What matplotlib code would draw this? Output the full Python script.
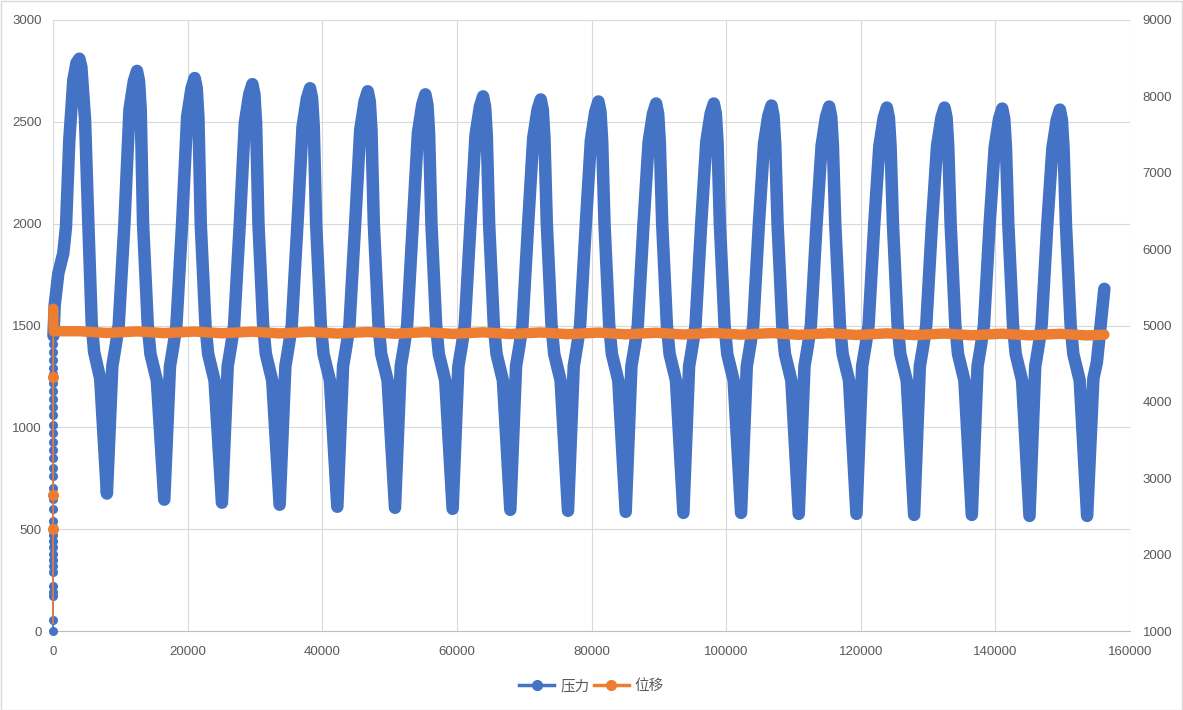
import matplotlib
matplotlib.use("Agg")
import matplotlib.pyplot as plt
from matplotlib.lines import Line2D
from matplotlib.patches import Rectangle

plt.rcParams['font.family'] = ['Liberation Sans', 'Noto Sans CJK SC', 'DejaVu Sans']

BLUE = '#4472C4'
ORANGE = '#ED7D31'
GRID = '#d9d9d9'
TXT = '#595959'

# start-up readings (pressure ramps up at x ~ 0)
press0_x = [0, 2, 4, 6, 8, 10, 12, 14, 16, 18, 20, 22, 24, 26, 28, 30, 32, 34,
            36, 38, 40, 42, 44, 46, 48, 50, 52, 54, 56, 58, 60, 62, 64, 66, 68]
press0_y = [0, 55, 170, 190, 220, 290, 320, 350, 380, 410, 440, 470, 510, 540,
            600, 650, 700, 760, 800, 850, 890, 930, 970, 1010, 1060, 1100, 1140,
            1180, 1220, 1260, 1290, 1330, 1370, 1410, 1450]

# pressure cycles
press_x = [68, 250, 790, 1530, 1930, 2420, 3020, 3500,
           3910, 4210, 4760, 5250, 5750, 6110, 7010, 8010, 8810, 9310, 9760, 10610, 11360, 12010,
           12480, 12780, 13030, 13380, 14080, 14480, 15430, 16530, 17380, 17880, 18330, 19180, 19930, 20580,
           21050, 21350, 21600, 21950, 22650, 23050, 24000, 25100, 25950, 26450, 26900, 27750, 28500, 29150,
           29620, 29920, 30170, 30520, 31220, 31620, 32570, 33670, 34520, 35020, 35470, 36320, 37070, 37720,
           38190, 38490, 38740, 39090, 39790, 40190, 41140, 42240, 43090, 43590, 44040, 44890, 45640, 46290,
           46760, 47060, 47310, 47660, 48360, 48760, 49710, 50810, 51660, 52160, 52610, 53460, 54210, 54860,
           55320, 55620, 55870, 56220, 56920, 57320, 58270, 59370, 60220, 60720, 61170, 62020, 62770, 63420,
           63890, 64190, 64440, 64790, 65490, 65890, 66840, 67940, 68790, 69290, 69740, 70590, 71340, 71990,
           72460, 72760, 73010, 73360, 74060, 74460, 75410, 76510, 77360, 77860, 78310, 79160, 79910, 80560,
           81030, 81330, 81580, 81930, 82630, 83030, 83980, 85080, 85930, 86430, 86880, 87730, 88480, 89130,
           89600, 89900, 90150, 90500, 91200, 91600, 92550, 93650, 94500, 95000, 95450, 96300, 97050, 97700,
           98170, 98470, 98720, 99070, 99770, 100170, 101120, 102220, 103070, 103570, 104020, 104870, 105620, 106270,
           106740, 107040, 107290, 107640, 108340, 108740, 109690, 110790, 111640, 112140, 112590, 113440, 114190, 114840,
           115310, 115610, 115860, 116210, 116910, 117310, 118260, 119360, 120210, 120710, 121160, 122010, 122760, 123410,
           123880, 124180, 124430, 124780, 125480, 125880, 126830, 127930, 128780, 129280, 129730, 130580, 131330, 131980,
           132450, 132750, 133000, 133350, 134050, 134450, 135400, 136500, 137350, 137850, 138300, 139150, 139900, 140550,
           141020, 141320, 141570, 141920, 142620, 143020, 143970, 145070, 145920, 146420, 146870, 147720, 148470, 149120,
           149580, 149880, 150130, 150480, 151180, 151580, 152530, 153630, 154560, 155080, 156190]
press_y = [1450, 1600, 1756, 1855, 1985, 2410, 2705, 2790,
           2810, 2770, 2510, 2000, 1510, 1370, 1240, 675, 1300, 1400, 1500, 2000, 2560, 2700,
           2750, 2700, 2560, 2000, 1500, 1360, 1230, 645, 1300, 1400, 1500, 2000, 2525, 2665,
           2715, 2665, 2525, 2000, 1500, 1360, 1230, 630, 1300, 1400, 1500, 2000, 2495, 2635,
           2685, 2635, 2495, 2000, 1500, 1360, 1230, 620, 1300, 1400, 1500, 2000, 2475, 2615,
           2665, 2615, 2475, 2000, 1500, 1360, 1230, 610, 1300, 1400, 1500, 2000, 2460, 2600,
           2650, 2600, 2460, 2000, 1500, 1360, 1230, 605, 1300, 1400, 1500, 2000, 2445, 2585,
           2635, 2585, 2445, 2000, 1500, 1360, 1230, 600, 1300, 1400, 1500, 2000, 2435, 2575,
           2625, 2575, 2435, 2000, 1500, 1360, 1230, 595, 1300, 1400, 1500, 2000, 2420, 2560,
           2610, 2560, 2420, 2000, 1500, 1360, 1230, 590, 1300, 1400, 1500, 2000, 2410, 2550,
           2600, 2550, 2410, 2000, 1500, 1360, 1230, 585, 1300, 1400, 1500, 2000, 2400, 2540,
           2590, 2540, 2400, 2000, 1500, 1360, 1230, 580, 1300, 1400, 1500, 2000, 2400, 2540,
           2590, 2540, 2400, 2000, 1500, 1360, 1230, 580, 1300, 1400, 1500, 2000, 2390, 2530,
           2580, 2530, 2390, 2000, 1500, 1360, 1230, 575, 1300, 1400, 1500, 2000, 2385, 2525,
           2575, 2525, 2385, 2000, 1500, 1360, 1230, 575, 1300, 1400, 1500, 2000, 2380, 2520,
           2570, 2520, 2380, 2000, 1500, 1360, 1230, 570, 1300, 1400, 1500, 2000, 2380, 2520,
           2570, 2520, 2380, 2000, 1500, 1360, 1230, 570, 1300, 1400, 1500, 2000, 2375, 2515,
           2565, 2515, 2375, 2000, 1500, 1360, 1230, 565, 1300, 1400, 1500, 2000, 2370, 2510,
           2560, 2510, 2370, 2000, 1500, 1360, 1230, 565, 1240, 1320, 1680]

# displacement start-up
disp0_x = [0, 10, 20, 30, 40]
disp0_y = [1100, 2330, 2780, 4330, 5220]

# displacement
disp_x = [40, 60, 80, 100,
          3910, 8010, 12480, 16530, 21050, 25100, 29620, 33670, 38190, 42240,
          46760, 50810, 55320, 59370, 63890, 67940, 72460, 76510, 81030, 85080,
          89600, 93650, 98170, 102220, 106740, 110790, 115310, 119360, 123880, 127930,
          132450, 136500, 141020, 145070, 149580, 153630, 156190]
disp_y = [5220, 5150, 5000, 4925,
          4925, 4902, 4923, 4900, 4921, 4898, 4919, 4896, 4917, 4894,
          4915, 4892, 4913, 4890, 4911, 4888, 4909, 4886, 4907, 4884,
          4905, 4882, 4903, 4880, 4901, 4878, 4899, 4876, 4897, 4874,
          4895, 4872, 4893, 4871, 4891, 4870, 4880]

fig = plt.figure(figsize=(11.83, 7.10), dpi=100)
ax = fig.add_axes([53 / 1183, 1 - 631 / 710, (1130 - 53) / 1183, (631 - 20) / 710])
ax2 = ax.twinx()

ax.plot(press0_x, press0_y, color=BLUE, lw=1.2, marker='o', ms=5.5, mec=BLUE, mfc=BLUE,
        zorder=3, clip_on=False)
ax.plot(press_x, press_y, color=BLUE, lw=9, solid_joinstyle='round', solid_capstyle='round',
        zorder=3, clip_on=False)

ax2.plot(disp0_x, disp0_y, color=ORANGE, lw=1.2, marker='o', ms=7, mec=ORANGE, mfc=ORANGE,
         markevery=[1, 2, 3], zorder=4, clip_on=False)
ax2.plot(disp_x, disp_y, color=ORANGE, lw=7.5, solid_joinstyle='round', solid_capstyle='round',
         zorder=4, clip_on=False)

ax.set_xlim(0, 160000)
ax.set_ylim(0, 3000)
ax2.set_ylim(1000, 9000)
ax.set_xticks(range(0, 160001, 20000))
ax.set_yticks(range(0, 3001, 500))
ax2.set_yticks(range(1000, 9001, 1000))

ax.grid(True, color=GRID, lw=0.8)
ax.set_axisbelow(True)
for a in (ax, ax2):
    for s in a.spines.values():
        s.set_visible(False)
ax.spines['bottom'].set_visible(True)
ax.spines['bottom'].set_color('#bfbfbf')

ax.tick_params(axis='both', length=0, labelsize=9.5, labelcolor=TXT)
ax.tick_params(axis='y', pad=8)
ax.tick_params(axis='x', pad=11)
ax2.tick_params(axis='y', length=0, labelsize=9.5, labelcolor=TXT, pad=9)

handles = [Line2D([], [], color=BLUE, lw=2.5, marker='o', ms=7),
           Line2D([], [], color=ORANGE, lw=2.5, marker='o', ms=7)]
leg = fig.legend(handles, ['压力', '位移'], loc='center', bbox_to_anchor=(0.5, 1 - 686 / 710),
                 ncol=2, frameon=False, handlelength=2.4, handletextpad=0.4, columnspacing=0.3,
                 prop={'family': ['Noto Sans CJK SC', 'DejaVu Sans'], 'size': 10.5})
for t in leg.get_texts():
    t.set_color(TXT)

fig.patches.append(Rectangle((0.5 / 1183, 0.5 / 710), 1 - 1.5 / 1183, 1 - 1.5 / 710,
                             transform=fig.transFigure, fill=False, edgecolor=GRID, lw=1))

fig.savefig('out.png', dpi=100)
